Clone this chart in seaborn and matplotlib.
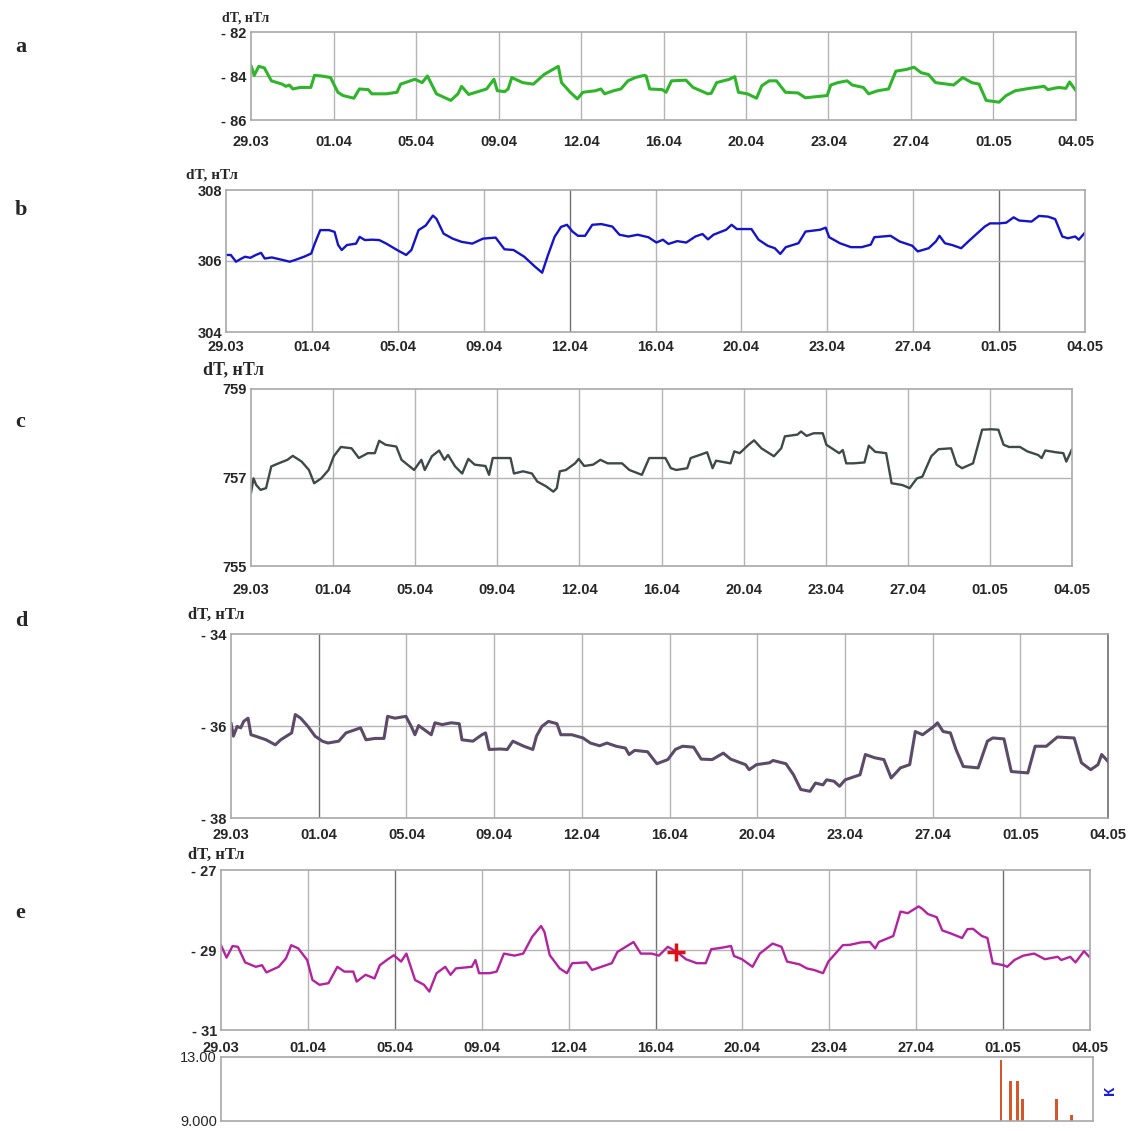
import matplotlib
matplotlib.use("Agg")
import matplotlib.pyplot as plt
import seaborn as sns
import numpy as np

# ---------------------------------------------------------------
# Data (days since 29.03 and dT in nT)
# ---------------------------------------------------------------
tick_labels = ["29.03", "01.04", "05.04", "09.04", "12.04", "16.04",
               "20.04", "23.04", "27.04", "01.05", "04.05"]

a_days = [0.0, 0.14, 0.34, 0.58, 0.89, 1.36, 1.52, 1.67, 1.83, 2.14, 2.61, 2.77, 3.08, 3.47,
          3.79, 4.02, 4.49, 4.73, 5.12, 5.27, 5.90, 6.37, 6.53, 7.15, 7.47, 7.70, 8.09, 8.40,
          8.72, 9.03, 9.19, 9.50, 10.28, 10.60, 10.75, 11.07, 11.22, 11.38, 11.85, 12.32, 12.79,
          13.41, 13.55, 13.93, 14.24, 14.48, 15.03, 15.27, 15.43, 15.82, 16.14, 16.45, 16.77,
          17.16, 17.24, 17.40, 17.95, 18.11, 18.35, 18.98, 19.29, 19.93, 20.08, 20.32, 20.87,
          21.11, 21.27, 21.66, 22.06, 22.29, 22.61, 22.93, 23.32, 23.87, 24.19, 25.14, 25.30,
          25.61, 26.01, 26.24, 26.72, 26.95, 27.35, 27.82, 28.14, 28.61, 28.93, 29.24, 29.56,
          29.87, 30.66, 31.06, 31.45, 31.77, 32.08, 32.64, 32.95, 33.35, 33.98, 34.61, 34.77,
          35.24, 35.56, 35.72, 36.0]
a_vals = [-83.53, -83.97, -83.56, -83.63, -84.22, -84.37, -84.47, -84.41, -84.59, -84.52, -84.52,
          -83.97, -84.0, -84.07, -84.74, -84.89, -85.01, -84.59, -84.62, -84.81, -84.81, -84.74,
          -84.37, -84.15, -84.30, -84.0, -84.81, -84.96, -85.11, -84.81, -84.47, -84.84, -84.59,
          -84.15, -84.67, -84.71, -84.59, -84.07, -84.30, -84.37, -83.93, -83.56, -84.30, -84.74,
          -85.04, -84.74, -84.67, -84.59, -84.81, -84.67, -84.59, -84.22, -84.07, -83.97, -84.0,
          -84.59, -84.62, -84.74, -84.22, -84.19, -84.52, -84.81, -84.79, -84.30, -84.15, -84.03,
          -84.74, -84.81, -85.01, -84.44, -84.22, -84.22, -84.74, -84.77, -84.99, -84.89, -84.41,
          -84.30, -84.22, -84.41, -84.52, -84.81, -84.67, -84.59, -83.78, -83.70, -83.60, -83.85,
          -83.93, -84.30, -84.41, -84.07, -84.30, -84.37, -85.11, -85.19, -84.89, -84.67, -84.56,
          -84.47, -84.62, -84.52, -84.56, -84.27, -84.67]

b_days = [0.0, 0.2, 0.42, 0.65, 0.8, 1.02, 1.25, 1.47, 1.62, 1.92, 2.37, 2.67, 2.9, 3.27, 3.57,
          3.72, 3.95, 4.32, 4.55, 4.70, 4.85, 5.07, 5.45, 5.60, 5.82, 6.12, 6.42, 6.72, 7.17,
          7.55, 7.77, 8.07, 8.37, 8.67, 8.82, 9.12, 9.50, 9.87, 10.32, 10.77, 11.30, 11.67,
          12.05, 12.50, 12.95, 13.25, 13.47, 13.77, 14.04, 14.29, 14.52, 14.75, 15.05, 15.35,
          15.73, 16.19, 16.49, 16.87, 17.25, 17.70, 18.04, 18.31, 18.54, 18.91, 19.29, 19.67,
          19.97, 20.20, 20.43, 20.96, 21.19, 21.41, 22.02, 22.32, 22.70, 23.0, 23.23, 23.46,
          23.99, 24.29, 24.90, 25.13, 25.28, 25.73, 26.19, 26.64, 27.02, 27.17, 27.85, 28.23,
          28.76, 28.99, 29.45, 29.75, 29.90, 30.13, 30.43, 30.81, 31.11, 31.42, 31.80, 32.02,
          32.40, 32.70, 33.01, 33.24, 33.76, 34.07, 34.45, 34.75, 35.05, 35.28, 35.59, 35.74, 36.0]
b_vals = [306.17, 306.17, 305.98, 306.07, 306.12, 306.09, 306.17, 306.23, 306.07, 306.10, 306.03,
          305.98, 306.03, 306.12, 306.21, 306.49, 306.87, 306.87, 306.82, 306.45, 306.31, 306.45,
          306.49, 306.68, 306.59, 306.60, 306.59, 306.49, 306.31, 306.17, 306.31, 306.87, 307.0,
          307.28, 307.19, 306.77, 306.63, 306.54, 306.49, 306.63, 306.66, 306.33, 306.31, 306.12,
          305.84, 305.67, 306.12, 306.68, 306.96, 307.02, 306.83, 306.71, 306.71, 307.02, 307.04,
          306.97, 306.74, 306.69, 306.74, 306.67, 306.52, 306.60, 306.48, 306.56, 306.52, 306.69,
          306.76, 306.61, 306.74, 306.88, 307.02, 306.90, 306.90, 306.60, 306.43, 306.36, 306.20,
          306.39, 306.50, 306.83, 306.88, 306.94, 306.67, 306.50, 306.39, 306.39, 306.46, 306.67,
          306.71, 306.55, 306.43, 306.27, 306.36, 306.55, 306.71, 306.50, 306.45, 306.36, 306.55,
          306.74, 306.97, 307.06, 307.06, 307.08, 307.23, 307.14, 307.11, 307.27, 307.25, 307.18,
          306.69, 306.64, 306.69, 306.60, 306.80]

c_days = [0.0, 0.11, 0.23, 0.42, 0.66, 0.89, 1.21, 1.60, 1.83, 2.22, 2.54, 2.77, 3.08, 3.40,
          3.63, 3.94, 4.41, 4.73, 5.12, 5.43, 5.62, 5.90, 6.37, 6.60, 7.15, 7.47, 7.62, 7.93,
          8.25, 8.48, 8.64, 8.95, 9.26, 9.53, 9.81, 10.28, 10.44, 10.60, 11.38, 11.53, 11.93,
          12.32, 12.55, 12.94, 13.26, 13.41, 13.54, 13.81, 14.21, 14.37, 14.61, 15.0, 15.32,
          15.64, 16.27, 16.59, 17.14, 17.46, 17.94, 18.17, 18.41, 18.65, 19.13, 19.28, 19.68,
          20.0, 20.24, 20.39, 21.03, 21.19, 21.43, 21.82, 22.06, 22.38, 22.93, 23.25, 23.41,
          23.96, 24.12, 24.36, 24.67, 25.07, 25.23, 25.79, 25.95, 26.10, 26.42, 26.90, 27.09,
          27.37, 27.85, 28.09, 28.56, 28.88, 29.20, 29.44, 29.83, 30.15, 30.70, 30.94, 31.18,
          31.66, 32.06, 32.45, 32.77, 33.0, 33.24, 33.72, 34.04, 34.51, 34.67, 34.83, 35.30,
          35.62, 35.75, 36.0]
c_vals = [756.65, 756.98, 756.83, 756.72, 756.76, 757.25, 757.32, 757.40, 757.49, 757.36, 757.17,
          756.87, 756.98, 757.17, 757.48, 757.69, 757.66, 757.44, 757.55, 757.55, 757.83, 757.74,
          757.70, 757.40, 757.17, 757.40, 757.17, 757.48, 757.61, 757.40, 757.51, 757.25, 757.09,
          757.42, 757.29, 757.26, 757.06, 757.44, 757.44, 757.09, 757.14, 757.09, 756.91, 756.80,
          756.68, 756.76, 757.14, 757.17, 757.32, 757.42, 757.26, 757.29, 757.40, 757.32, 757.32,
          757.17, 757.06, 757.44, 757.44, 757.44, 757.21, 757.17, 757.21, 757.44, 757.51, 757.57,
          757.21, 757.38, 757.32, 757.59, 757.55, 757.74, 757.84, 757.66, 757.48, 757.66, 757.93,
          757.97, 758.04, 757.94, 758.0, 758.0, 757.74, 757.55, 757.62, 757.32, 757.32, 757.34,
          757.72, 757.58, 757.55, 756.87, 756.83, 756.76, 756.98, 757.02, 757.48, 757.64, 757.66,
          757.29, 757.21, 757.32, 758.08, 758.09, 758.08, 757.74, 757.69, 757.69, 757.59, 757.51,
          757.44, 757.61, 757.57, 757.55, 757.36, 757.64]

d_days = [0.0, 0.10, 0.25, 0.40, 0.52, 0.70, 0.82, 1.0, 1.44, 1.82, 2.04, 2.49, 2.64, 2.86, 3.16,
          3.45, 3.75, 3.98, 4.42, 4.72, 5.32, 5.54, 5.91, 6.28, 6.43, 6.73, 7.18, 7.40, 7.55,
          7.70, 8.22, 8.37, 8.67, 9.04, 9.37, 9.48, 9.93, 10.30, 10.45, 10.60, 11.04, 11.34,
          11.57, 12.02, 12.39, 12.54, 12.76, 13.03, 13.38, 13.54, 13.99, 14.45, 14.75, 15.13,
          15.43, 15.81, 16.19, 16.34, 16.57, 17.10, 17.48, 17.93, 18.24, 18.54, 18.99, 19.30,
          19.75, 20.21, 20.51, 21.12, 21.27, 21.57, 22.10, 22.25, 22.78, 23.09, 23.39, 23.77,
          23.99, 24.30, 24.45, 24.75, 24.98, 25.21, 25.82, 26.04, 26.42, 26.80, 27.10, 27.48,
          27.86, 28.09, 28.39, 28.85, 29.00, 29.23, 29.53, 29.76, 30.06, 30.67, 31.05, 31.27,
          31.73, 32.03, 32.71, 33.01, 33.47, 33.92, 34.61, 34.91, 35.29, 35.59, 35.74, 36.0]
d_vals = [-35.93, -36.22, -36.01, -36.04, -35.90, -35.83, -36.19, -36.22, -36.30, -36.41, -36.30,
          -36.15, -35.75, -35.83, -36.01, -36.22, -36.33, -36.37, -36.33, -36.15, -36.04, -36.30,
          -36.27, -36.27, -35.79, -35.83, -35.79, -36.01, -36.19, -35.99, -36.19, -35.93, -35.97,
          -35.93, -35.95, -36.30, -36.33, -36.19, -36.15, -36.51, -36.50, -36.51, -36.33, -36.44,
          -36.51, -36.22, -36.01, -35.90, -35.95, -36.19, -36.19, -36.26, -36.37, -36.43, -36.37,
          -36.44, -36.48, -36.62, -36.53, -36.56, -36.82, -36.73, -36.51, -36.44, -36.46, -36.72,
          -36.73, -36.59, -36.72, -36.84, -36.95, -36.84, -36.80, -36.75, -36.82, -37.06, -37.38,
          -37.42, -37.24, -37.28, -37.17, -37.20, -37.31, -37.17, -37.06, -36.62, -36.69, -36.73,
          -37.13, -36.91, -36.84, -36.12, -36.19, -36.01, -35.93, -36.12, -36.15, -36.51, -36.88,
          -36.91, -36.33, -36.26, -36.28, -36.99, -37.02, -36.44, -36.44, -36.24, -36.26, -36.80,
          -36.95, -36.84, -36.62, -36.77]

e_days = [0.0, 0.23, 0.48, 0.70, 1.0, 1.44, 1.70, 1.88, 2.39, 2.69, 2.91, 3.20, 3.57, 3.79, 4.08,
          4.45, 4.82, 5.11, 5.48, 5.62, 5.99, 6.36, 6.58, 6.87, 7.16, 7.46, 7.68, 8.04, 8.41,
          8.63, 8.93, 9.29, 9.51, 9.73, 10.39, 10.54, 10.69, 11.13, 11.42, 11.72, 12.16, 12.52,
          12.89, 13.26, 13.40, 13.62, 14.03, 14.33, 14.55, 15.15, 15.37, 16.19, 16.42, 17.09,
          17.39, 17.84, 18.14, 18.51, 18.89, 19.26, 19.71, 20.08, 20.31, 20.68, 21.13, 21.25,
          21.58, 22.02, 22.32, 22.85, 23.22, 23.45, 23.97, 24.27, 24.57, 24.94, 25.16, 25.76,
          26.06, 26.51, 26.88, 27.10, 27.25, 27.85, 28.15, 28.45, 28.90, 29.05, 29.28, 29.65,
          29.88, 30.25, 30.70, 30.92, 31.15, 31.52, 31.75, 31.97, 32.42, 32.57, 32.87, 33.24,
          33.69, 34.13, 34.66, 34.81, 35.18, 35.40, 35.75, 36.0]
e_vals = [-28.88, -29.19, -28.90, -28.92, -29.31, -29.42, -29.38, -29.56, -29.42, -29.21, -28.88,
          -28.96, -29.25, -29.75, -29.87, -29.83, -29.42, -29.54, -29.54, -29.79, -29.62, -29.71,
          -29.38, -29.25, -29.13, -29.29, -29.09, -29.75, -29.87, -30.04, -29.58, -29.42, -29.62,
          -29.46, -29.42, -29.25, -29.58, -29.58, -29.54, -29.09, -29.14, -29.09, -28.67, -28.40,
          -28.55, -29.13, -29.46, -29.58, -29.33, -29.31, -29.50, -29.33, -29.05, -28.80, -29.09,
          -29.09, -29.14, -28.92, -29.05, -29.23, -29.33, -29.33, -28.98, -28.95, -28.90, -29.15,
          -29.23, -29.42, -29.09, -28.84, -28.92, -29.29, -29.36, -29.46, -29.50, -29.58, -29.29,
          -28.88, -28.87, -28.81, -28.80, -28.96, -28.80, -28.65, -28.04, -28.08, -27.91, -27.97,
          -28.10, -28.18, -28.51, -28.59, -28.70, -28.48, -28.47, -28.65, -28.70, -29.33, -29.38,
          -29.42, -29.25, -29.14, -29.09, -29.23, -29.17, -29.25, -29.17, -29.31, -29.03, -29.19]
e_marker = (18.86, -29.05)

k_days = [32.2, 32.6, 32.9, 33.1, 34.5, 35.1]
k_vals = [12.8, 11.5, 11.5, 10.4, 10.4, 9.4]

# ---------------------------------------------------------------
sns.set_theme(style="white")
plt.rcParams["font.family"] = ["Liberation Sans", "DejaVu Sans"]
SERIF = ["Liberation Serif", "DejaVu Serif"]

fig = plt.figure(figsize=(11.28, 11.31), dpi=100)
W, H = 1128, 1131


def box(l, t, r, b):
    return [l / W, 1 - b / H, (r - l) / W, (b - t) / H]


def fmt(v):
    return f"- {abs(v):g}" if v < 0 else f"{v:g}"


panels = [
    # days, values, color, lw, ylim, rect, dark grid idx, letter y, label (x, y, size), xlabel pad
    (a_days, a_vals, "#2fb52a", 2.2, (-86, -82), box(251, 32, 1076, 120), [], 47, (222, 18, 10), 11),
    (b_days, b_vals, "#1414c8", 1.7, (304, 308), box(226, 190, 1085, 332), [4, 9], 210, (186, 175, 11), 6),
    (c_days, c_vals, "#3e4a48", 1.7, (755, 759), box(251, 389, 1072, 566), [], 422, (203, 370, 13), 12),
    (d_days, d_vals, "#5b4b68", 2.2, (-38, -34), box(231, 634, 1108, 818), [1, 10], 621, (188, 615, 12), 7),
    (e_days, e_vals, "#b3229f", 1.7, (-31, -27), box(221, 870, 1090, 1030), [2, 5, 9], 913, (188, 855, 12), 8),
]
letters = ["a", "b", "c", "d", "e"]
xticks = np.linspace(0, 36, 11)

for (days, vals, color, lw, ylim, rect, dark, ly, lab, xpad), letter in zip(panels, letters):
    ax = fig.add_axes(rect)
    sns.lineplot(x=days, y=vals, ax=ax, color=color, lw=lw)
    ax.set_xlim(0, 36)
    ax.set_ylim(*ylim)
    yt = [ylim[0], (ylim[0] + ylim[1]) / 2, ylim[1]]
    ax.set_yticks(yt)
    ax.set_yticklabels([fmt(v) for v in yt], fontweight="bold", fontsize=10.5)
    ax.set_xticks(xticks)
    ax.set_xticklabels(tick_labels, fontweight="bold", fontsize=10.5)
    ax.tick_params(length=0, pad=3)
    ax.tick_params(axis="x", pad=xpad)
    for i, xt in enumerate(xticks[1:-1], start=1):
        ax.axvline(xt, color="#707070" if i in dark else "#b4b4b4", lw=1.0, zorder=0)
    ax.axhline(yt[1], color="#b4b4b4", lw=1.0, zorder=0)
    for s in ax.spines.values():
        s.set_color("#a8a8a8")
        s.set_linewidth(1.2)
    if 10 in dark:
        ax.spines["right"].set_color("#707070")
    ax.set_xlabel("")
    ax.set_ylabel("")
    fig.text(15 / W, 1 - ly / H, letter, family=SERIF, fontweight="bold", fontsize=16,
             va="center", ha="left")
    fig.text(lab[0] / W, 1 - lab[1] / H, "dT, нТл", family=SERIF, fontweight="bold",
             fontsize=lab[2], va="center", ha="left")
    if letter == "e":
        ax.plot(*e_marker, marker="+", color="#e01010", ms=13, mew=2.5, zorder=5)

# K-index bars
axk = fig.add_axes(box(221, 1057, 1093, 1121))
axk.bar(k_days, k_vals, width=0.12, color="#d4572a", linewidth=0)
axk.set_xlim(0, 36)
axk.set_ylim(9, 13)
axk.set_xticks([])
axk.set_yticks([9, 13])
axk.set_yticklabels(["9.000", "13.00"], fontsize=10.5)
axk.tick_params(length=0, pad=3)
for s in axk.spines.values():
    s.set_color("#a8a8a8")
    s.set_linewidth(1.2)
fig.text(1110 / W, 1 - 1090 / H, "К", color="#1a1ae0", fontsize=11, rotation=90,
         va="center", ha="center", fontweight="bold")

fig.savefig("out.png", dpi=100)
